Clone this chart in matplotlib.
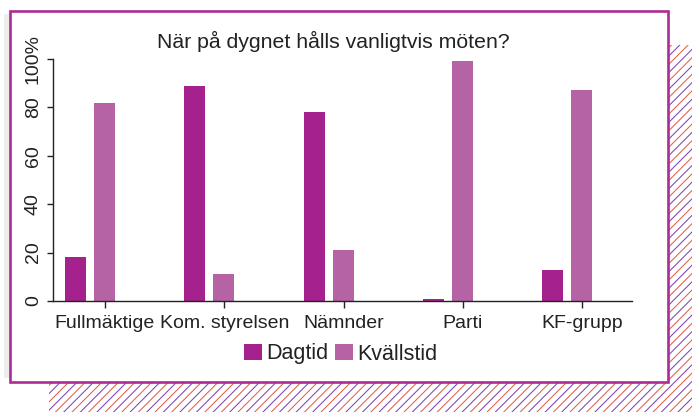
import matplotlib
matplotlib.use("Agg")
import matplotlib.pyplot as plt
from matplotlib.patches import Rectangle, Patch
import numpy as np

plt.rcParams['font.family'] = ['Liberation Sans', 'DejaVu Sans']

categories = ["Fullmäktige", "Kom. styrelsen", "Nämnder", "Parti", "KF-grupp"]
dagtid = [18, 89, 78, 1, 13]
kvallstid = [82, 11, 21, 99, 87]
ytick_vals = [0, 20, 40, 60, 80, 100]
ytick_labels = ["0", "20", "40", "60", "80", "100%"]
title = "När på dygnet hålls vanligtvis möten?"
series_names = ["Dagtid", "Kvällstid"]

c_dag = "#A5218D"
c_kvall = "#B663A5"
c_border = "#AE2A95"
c_text = "#222222"

W, H = 692, 412
fig = plt.figure(figsize=(W / 100, H / 100), dpi=100)

# background decoration axes in pixel coordinates
bg = fig.add_axes([0, 0, 1, 1])
bg.set_xlim(0, W)
bg.set_ylim(H, 0)
bg.axis("off")

clip = Rectangle((49, 45), W - 49, H - 45, transform=bg.transData,
                 facecolor="none", edgecolor="none")
bg.add_patch(clip)
spacing = 8.3
k = 0
x0 = 49 - (H - 45) - 10
while x0 < W + 10:
    col = "#7B46B2" if k % 2 == 0 else "#E0604A"
    ln, = bg.plot([x0, x0 + (H - 45) + 20], [H + 10, 45 - 10], color=col, lw=0.75, zorder=1)
    ln.set_clip_path(clip)
    x0 += spacing
    k += 1

# light shadow on left of box
bg.add_patch(Rectangle((4, 14), 6, 364, facecolor="#EDEDED", edgecolor="none", zorder=4))
# white box
bg.add_patch(Rectangle((9.5, 10.5), 658.5, 371, facecolor="white",
                       edgecolor=c_border, lw=1.9, zorder=5))

# main axes
left, right = 53 / W, 632 / W
bottom, top = 1 - 301 / H, 1 - 59 / H
ax = fig.add_axes([left, bottom, right - left, top - bottom])
ax.patch.set_alpha(0)

grp = 119.3
x = np.arange(len(categories))
off = 14.5 / grp
bw = 21 / grp
ax.bar(x - off, dagtid, width=bw, color=c_dag, label=series_names[0])
ax.bar(x + off, kvallstid, width=bw, color=c_kvall, label=series_names[1])

ax.set_xlim((53 - 90) / grp, (632 - 90) / grp)
ax.set_ylim(0, 100)

for s in ["top", "right"]:
    ax.spines[s].set_visible(False)
ax.spines["left"].set_bounds(0, 100)
for s in ["left", "bottom"]:
    ax.spines[s].set_color(c_text)
    ax.spines[s].set_linewidth(1.0)

ax.set_yticks(ytick_vals)
ax.set_yticklabels(ytick_labels, rotation=90, va="center", fontsize=14, color=c_text)
ax.set_xticks(x + 15 / grp)
ax.set_xticklabels(categories, fontsize=14, color=c_text)
ax.tick_params(axis="y", length=4, width=1, pad=4, color=c_text)
ax.tick_params(axis="x", length=5, width=1, pad=5, color=c_text)

fig.text(333 / W, 1 - 41 / H, title, ha="center", va="center", fontsize=15.3, color=c_text)

handles = [Patch(facecolor=c_dag), Patch(facecolor=c_kvall)]
fig.legend(handles, series_names, loc="center", bbox_to_anchor=(341 / W, 1 - 354 / H),
           ncol=2, frameon=False, fontsize=15.5, handlelength=0.84, handleheight=0.75,
           handletextpad=0.2, columnspacing=0.3, labelcolor=c_text, borderpad=0)

fig.savefig("out.png", dpi=100)
